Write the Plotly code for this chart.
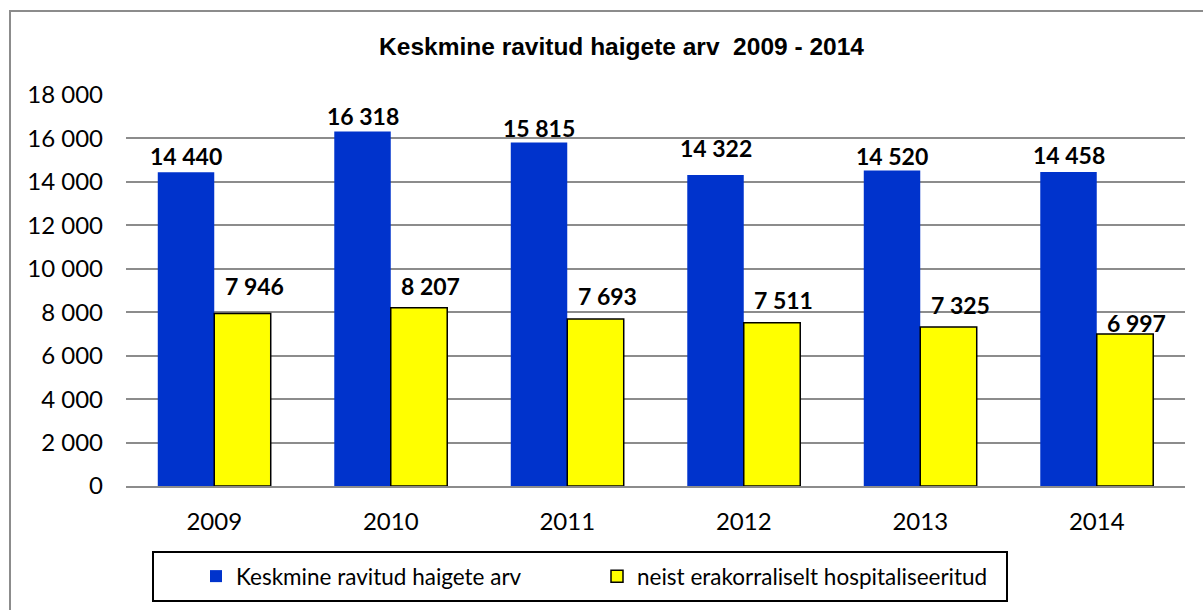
import plotly.graph_objects as go

# ---- data ----
years = ["2009", "2010", "2011", "2012", "2013", "2014"]
treated = [14440, 16318, 15815, 14322, 14520, 14458]
emergency = [7946, 8207, 7693, 7511, 7325, 6997]
y_ticks = [0, 2000, 4000, 6000, 8000, 10000, 12000, 14000, 16000, 18000]

series_names = ["Keskmine ravitud haigete arv", "neist erakorraliselt hospitaliseeritud"]
title_text = "Keskmine ravitud haigete arv  2009 - 2014"

# ---- style ----
BLUE = "#0033CC"
YELLOW = "#FFFF00"
GRID = "#8C8C8C"
TXT_FONT = "Lato"
TITLE_FONT = "Liberation Sans, Arial"
# label lift (px above the bar top, label centre) as placed in the original
blue_lift = [16, 16, 14, 27, 15, 17]
yellow_lift = [27, 22, 23, 23, 22, 11]


def fmt(v):
    return f"{v:,}".replace(",", " ")


fig = go.Figure()
fig.add_trace(go.Bar(x=years, y=treated, name=series_names[0],
                     marker=dict(color=BLUE, line=dict(width=0))))
fig.add_trace(go.Bar(x=years, y=emergency, name=series_names[1],
                     marker=dict(color=YELLOW, line=dict(color="black", width=1.5))))

ann = []
for i, yr in enumerate(years):
    # x given as the category index on the category axis
    ann.append(dict(x=i, y=treated[i], xref="x", yref="y", text="<b>" + fmt(treated[i]) + "</b>",
                    showarrow=False, xanchor="center", yanchor="middle",
                    xshift=-28, yshift=blue_lift[i],
                    font=dict(family=TXT_FONT, size=23, color="black")))
    ann.append(dict(x=i, y=emergency[i], xref="x", yref="y", text="<b>" + fmt(emergency[i]) + "</b>",
                    showarrow=False, xanchor="center", yanchor="middle",
                    xshift=28 + 12, yshift=yellow_lift[i],
                    font=dict(family=TXT_FONT, size=23, color="black")))

W, H = 1203, 610
L, R, T, B = 126, 18, 95, 124
pw, ph = W - L - R, H - T - B


def px_x(x):
    return (x - L) / pw


def px_y(y):
    return (H - B - y) / ph


shapes = [
    # outer chart frame
    dict(type="rect", xref="paper", yref="paper",
         x0=px_x(10), x1=px_x(1300), y0=px_y(700), y1=px_y(11),
         line=dict(color="#8C8C8C", width=2), fillcolor="rgba(0,0,0,0)", layer="below"),
    # legend frame
    dict(type="rect", xref="paper", yref="paper",
         x0=px_x(153), x1=px_x(1007), y0=px_y(601), y1=px_y(552),
         line=dict(color="black", width=2), fillcolor="rgba(0,0,0,0)", layer="above"),
]

fig.update_layout(
    width=W, height=H,
    margin=dict(l=L, r=R, t=T, b=B),
    paper_bgcolor="white", plot_bgcolor="white",
    separators=", ",
    barmode="group", bargap=0.36, bargroupgap=0,
    title=dict(text=title_text, x=621.5 / W, xanchor="center", xref="container",
               y=1 - 46 / H, yanchor="middle", yref="container",
               font=dict(family=TITLE_FONT, size=24.5, color="black", weight="bold")),
    font=dict(family=TXT_FONT, size=22, color="black"),
    xaxis=dict(type="category", range=[-0.5, len(years) - 0.5], autorange=False,
               showgrid=False, showline=True, linecolor=GRID, linewidth=2,
               ticks="", ticklabelstandoff=13,
               tickfont=dict(family=TXT_FONT, size=24, color="black")),
    yaxis=dict(range=[0, 18000], autorange=False, tickvals=y_ticks, tickformat=",d",
               showgrid=True, gridcolor=GRID, gridwidth=2,
               zeroline=False, showline=False, ticks="", ticklabelstandoff=22,
               tickfont=dict(family=TXT_FONT, size=24, color="black")),
    legend=dict(orientation="h", x=px_x(196), xanchor="left",
                y=px_y(576.5), yanchor="middle", bgcolor="rgba(0,0,0,0)",
                borderwidth=0, font=dict(family=TXT_FONT, size=22.5, color="black"),
                entrywidth=356, traceorder="normal"),
    annotations=ann,
    shapes=shapes,
)

fig.write_html("out.html", config={"displayModeBar": False},
               post_script="document.body.style.margin='0';document.body.style.overflow='hidden';")
